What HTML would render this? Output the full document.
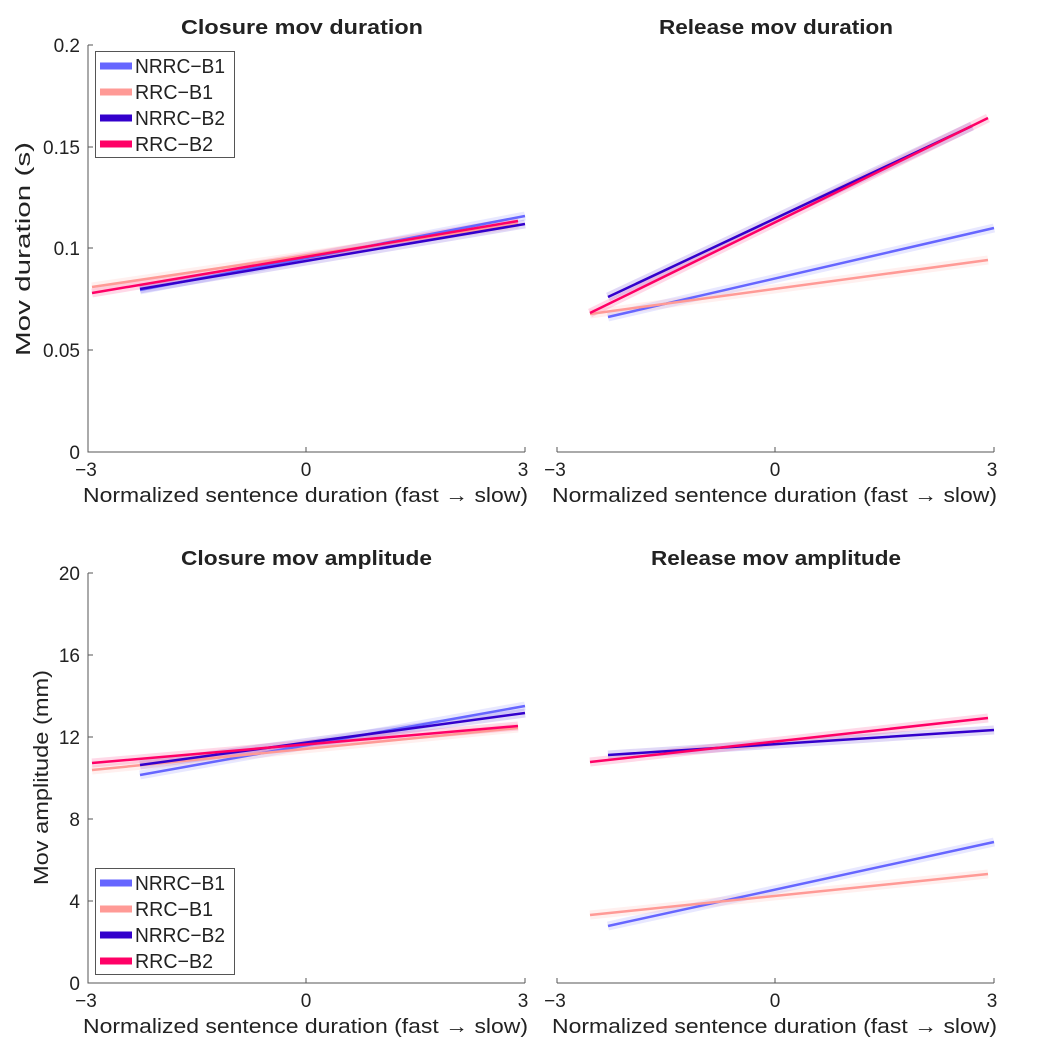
<!DOCTYPE html>
<html><head><style>body{margin:0;background:#fff}svg{display:block}text{font-family:"Liberation Sans","DejaVu Sans",sans-serif;fill:#222}</style></head><body>
<svg width="1064" height="1064" viewBox="0 0 1064 1064" xmlns="http://www.w3.org/2000/svg">
<g stroke="#555" stroke-width="1" fill="none">
<path d="M88,45 V452 H525"/>
<path d="M88,147h5M88,248h5M88,350h5M88,45h5M306,452v-5M525,452v-5"/>
<path d="M557,452 H994"/><path d="M557,452v-5M775,452v-5M994,452v-5"/>
<path d="M88,573 V983 H525"/>
<path d="M88,655h5M88,737h5M88,819h5M88,901h5M88,573h5M306,983v-5M525,983v-5"/>
<path d="M557,983 H994"/><path d="M557,983v-5M775,983v-5M994,983v-5"/>
</g>
<g font-size="19" text-anchor="end">
<text x="80" y="52">0.2</text><text x="80" y="154">0.15</text><text x="80" y="255">0.1</text><text x="80" y="357">0.05</text><text x="80" y="459">0</text>
<text x="80" y="580">20</text><text x="80" y="662">16</text><text x="80" y="744">12</text><text x="80" y="826">8</text><text x="80" y="908">4</text><text x="80" y="990">0</text>
</g>
<g font-size="19" text-anchor="middle">
<text x="86" y="476">−3</text><text x="306" y="476">0</text><text x="523" y="476">3</text>
<text x="555" y="476">−3</text><text x="775" y="476">0</text><text x="992" y="476">3</text>
<text x="86" y="1007">−3</text><text x="306" y="1007">0</text><text x="523" y="1007">3</text>
<text x="555" y="1007">−3</text><text x="775" y="1007">0</text><text x="992" y="1007">3</text>
</g>
<g font-size="20">
<text x="83" y="502" textLength="445" lengthAdjust="spacingAndGlyphs">Normalized sentence duration (fast → slow)</text>
<text x="552" y="502" textLength="445" lengthAdjust="spacingAndGlyphs">Normalized sentence duration (fast → slow)</text>
<text x="83" y="1033" textLength="445" lengthAdjust="spacingAndGlyphs">Normalized sentence duration (fast → slow)</text>
<text x="552" y="1033" textLength="445" lengthAdjust="spacingAndGlyphs">Normalized sentence duration (fast → slow)</text>
<text transform="translate(30,356) rotate(-90)" textLength="214" lengthAdjust="spacingAndGlyphs">Mov duration (s)</text>
<text transform="translate(48,885) rotate(-90)" textLength="215" lengthAdjust="spacingAndGlyphs">Mov amplitude (mm)</text>
</g>
<g font-size="20" font-weight="bold">
<text x="181" y="34" textLength="242" lengthAdjust="spacingAndGlyphs">Closure mov duration</text>
<text x="659" y="34" textLength="234" lengthAdjust="spacingAndGlyphs">Release mov duration</text>
<text x="181" y="565" textLength="251" lengthAdjust="spacingAndGlyphs">Closure mov amplitude</text>
<text x="651" y="565" textLength="250" lengthAdjust="spacingAndGlyphs">Release mov amplitude</text>
</g>
<g stroke-width="9" stroke-opacity="0.15" fill="none">
<path stroke="#6666ff" d="M140,290L525,216M608,317L994,228M140,775L525,706M608,926L994,842"/>
<path stroke="#ff9a96" d="M92,287L518,224M590,314L988,260M92,770L518,728M590,915L988,874"/>
<path stroke="#3300cc" d="M140,289L525,224M608,297L972,126M140,765L525,713M608,755L994,730"/>
<path stroke="#ff0066" d="M92,293L518,221M590,313L988,118M92,763L518,726M590,762L988,718"/>
</g>
<g stroke-width="2.5" fill="none">
<path stroke="#6666ff" d="M140,290L525,216M608,317L994,228M140,775L525,706M608,926L994,842"/>
<path stroke="#ff9a96" d="M92,287L518,224M590,314L988,260M92,770L518,728M590,915L988,874"/>
<path stroke="#3300cc" d="M140,289L525,224M608,297L972,126M140,765L525,713M608,755L994,730"/>
<path stroke="#ff0066" d="M92,293L518,221M590,313L988,118M92,763L518,726M590,762L988,718"/>
</g>
<g>
<rect x="95.5" y="51.5" width="139" height="106" fill="#fff" stroke="#555"/>
<g stroke-width="7"><path stroke="#6666ff" d="M100,66h32"/><path stroke="#ff9a96" d="M100,92h32"/><path stroke="#3300cc" d="M100,118h32"/><path stroke="#ff0066" d="M100,144h32"/></g>
<g font-size="20"><text x="135" y="73" textLength="90" lengthAdjust="spacingAndGlyphs">NRRC−B1</text><text x="135" y="99" textLength="78" lengthAdjust="spacingAndGlyphs">RRC−B1</text><text x="135" y="125" textLength="90" lengthAdjust="spacingAndGlyphs">NRRC−B2</text><text x="135" y="151" textLength="78" lengthAdjust="spacingAndGlyphs">RRC−B2</text></g>
</g>
<g>
<rect x="95.5" y="868.5" width="139" height="106" fill="#fff" stroke="#555"/>
<g stroke-width="7"><path stroke="#6666ff" d="M100,883h32"/><path stroke="#ff9a96" d="M100,909h32"/><path stroke="#3300cc" d="M100,935h32"/><path stroke="#ff0066" d="M100,961h32"/></g>
<g font-size="20"><text x="135" y="890" textLength="90" lengthAdjust="spacingAndGlyphs">NRRC−B1</text><text x="135" y="916" textLength="78" lengthAdjust="spacingAndGlyphs">RRC−B1</text><text x="135" y="942" textLength="90" lengthAdjust="spacingAndGlyphs">NRRC−B2</text><text x="135" y="968" textLength="78" lengthAdjust="spacingAndGlyphs">RRC−B2</text></g>
</g>
</svg>
</body></html>
